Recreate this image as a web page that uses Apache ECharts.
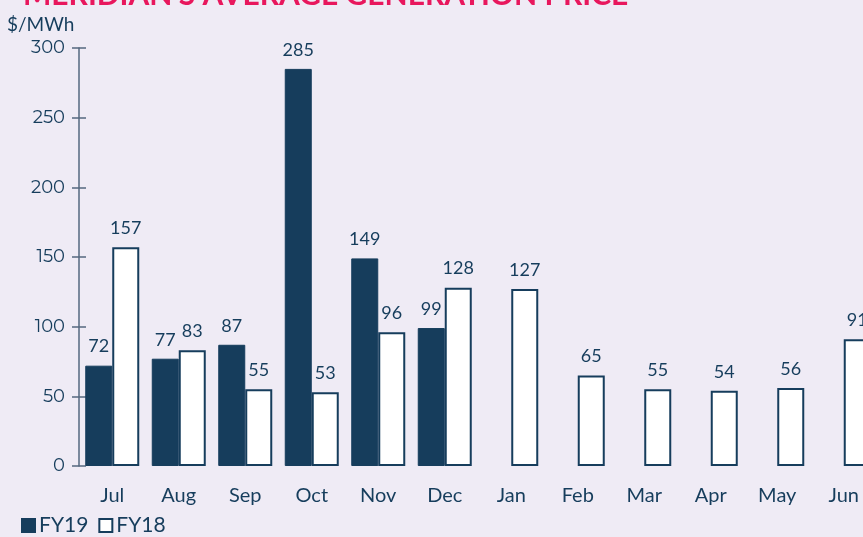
<!DOCTYPE html>
<html>
<head>
<meta charset="utf-8">
<script src="https://cdn.jsdelivr.net/npm/echarts@6/dist/echarts.min.js"></script>
<style>
  html, body { margin: 0; padding: 0; background: #efebf5; overflow: hidden; }
  #chart { width: 890px; height: 537px; }
</style>
</head>
<body>
<div id="chart"></div>
<script>
// 数据
const months = ['Jul', 'Aug', 'Sep', 'Oct', 'Nov', 'Dec', 'Jan', 'Feb', 'Mar', 'Apr', 'May', 'Jun'];
const fy19 = [72, 77, 87, 285, 149, 99, null, null, null, null, null, null];
const fy18 = [157, 83, 55, 53, 96, 128, 127, 65, 55, 54, 56, 91];

const navy = '#163d5c';
const axisGrey = '#55687f';

// 画布比窗口宽一点，Jun 的柱子会被窗口裁掉
const chart = echarts.init(document.getElementById('chart'));
const labelStyle = {
  show: true,
  position: 'top',
  distance: 10,
  color: navy,
  fontSize: 18,
  fontFamily: 'Lato, sans-serif'
};

const option = {
  backgroundColor: '#efebf5',
  animation: false,
  title: {
    text: "MERIDIAN'S AVERAGE GENERATION PRICE",
    left: 18,
    top: -25,
    textStyle: { color: '#e8175d', fontSize: 30, fontWeight: 'bold', fontFamily: 'Lato, sans-serif' }
  },
  legend: {
    left: 16,
    bottom: -4,
    itemWidth: 13,
    itemHeight: 13,
    itemGap: 10,
    icon: 'rect',
    textStyle: { color: navy, fontSize: 21, fontFamily: 'Lato, sans-serif', padding: [0, 0, 0, -1] },
    data: ['FY19', 'FY18']
  },
  grid: { left: 79, top: 48, width: 798, height: 418, containLabel: false },
  xAxis: {
    type: 'category',
    data: months,
    axisLine: { show: false },
    axisTick: { show: false },
    axisLabel: { color: navy, fontSize: 20, margin: 20, fontFamily: 'Lato, sans-serif' }
  },
  yAxis: [
    {
      type: 'value',
      name: '$/MWh',
      nameLocation: 'end',
      nameGap: 14,
      nameTextStyle: { color: navy, fontSize: 19, align: 'left', padding: [0, 0, 0, -72], fontFamily: 'Lato, sans-serif' },
      min: 0,
      max: 300,
      interval: 50,
      axisLine: { show: true, lineStyle: { color: axisGrey, width: 1.5 } },
      axisTick: { show: true, length: 7, lineStyle: { color: axisGrey, width: 1.5 } },
      axisLabel: { color: navy, fontSize: 18, margin: 14, fontFamily: 'Montserrat, "Open Sans", sans-serif' },
      splitLine: { show: false }
    },
    {
      type: 'value',
      position: 'left',
      min: 0,
      max: 300,
      interval: 50,
      axisLine: { show: false },
      axisTick: { show: true, inside: true, length: 7, lineStyle: { color: axisGrey, width: 1.5 } },
      axisLabel: { show: false },
      splitLine: { show: false }
    }
  ],
  series: [
    {
      name: 'FY19',
      type: 'bar',
      data: fy19,
      barWidth: 27,
      barGap: '0%',
      itemStyle: { color: navy, borderColor: navy, borderWidth: 1 },
      label: labelStyle
    },
    {
      name: 'FY18',
      type: 'bar',
      data: fy18,
      barWidth: 27,
      itemStyle: { color: '#ffffff', borderColor: navy, borderWidth: 2 },
      label: labelStyle
    }
  ]
};
chart.setOption(option);
</script>
</body>
</html>
